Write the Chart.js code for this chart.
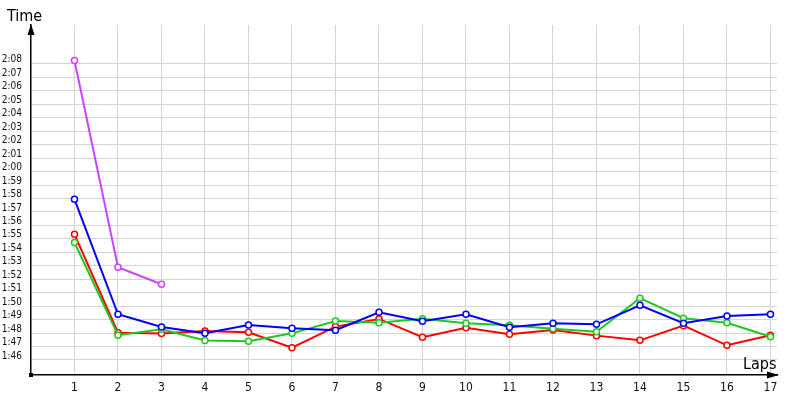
<!DOCTYPE html>
<html><head><meta charset="utf-8">
<script src="https://cdn.jsdelivr.net/npm/chart.js@4/dist/chart.umd.min.js"></script>
<style>html,body{margin:0;padding:0;background:#fff;overflow:hidden}canvas{display:block}</style>
</head><body><canvas id="c" width="800" height="400"></canvas>
<script>
const laps = [1,2,3,4,5,6,7,8,9,10,11,12,13,14,15,16,17];
const yTickLabels = ['1:46','1:47','1:48','1:49','1:50','1:51','1:52','1:53','1:54','1:55','1:56','1:57','1:58','1:59','2:00','2:01','2:02','2:03','2:04','2:05','2:06','2:07','2:08'];
// lap times in seconds
const purpleTimes = [128.25, 112.89, 111.63];
const blueTimes  = [117.94,109.40,108.45,107.98,108.60,108.36,108.21,109.55,108.88,109.40,108.43,108.73,108.65,110.07,108.73,109.27,109.40];
const redTimes   = [115.34,108.03,107.96,108.16,108.06,106.91,108.48,109.05,107.69,108.40,107.91,108.23,107.81,107.46,108.55,107.09,107.84];
const greenTimes = [114.73,107.84,108.28,107.45,107.39,107.98,108.90,108.77,109.07,108.73,108.58,108.33,108.10,110.59,109.10,108.77,107.73];

const toSec = s => { const p = s.split(':'); return (+p[0])*60 + (+p[1]); };
const fmt = v => Math.floor(v/60) + ':' + String(Math.round(v%60)).padStart(2,'0');
const pts = arr => arr.map((v,i) => ({x: laps[i], y: v}));

const FONT = "'DejaVu Sans Condensed', 'DejaVu Sans', sans-serif";

function ds(label, color, arr, order) {
  return {
    label, data: pts(arr), borderColor: color, backgroundColor: '#ffffff',
    borderWidth: 2, pointRadius: 3, pointBorderWidth: 1.5, pointBackgroundColor: '#ffffff',
    pointBorderColor: color, tension: 0, order
  };
}

const decor = {
  id: 'decor',
  afterDraw(chart) {
    const ctx = chart.ctx, a = chart.chartArea;
    ctx.save();
    ctx.fillStyle = '#000';
    // y arrow
    ctx.beginPath();
    ctx.moveTo(a.left, a.top - 1);
    ctx.lineTo(a.left - 3.5, a.top + 10);
    ctx.lineTo(a.left + 3.5, a.top + 10);
    ctx.closePath(); ctx.fill();
    // x arrow
    ctx.beginPath();
    ctx.moveTo(a.right + 2, a.bottom);
    ctx.lineTo(a.right - 10, a.bottom - 3.5);
    ctx.lineTo(a.right - 10, a.bottom + 3.5);
    ctx.closePath(); ctx.fill();
    // origin square
    ctx.fillRect(a.left - 2, a.bottom - 2, 4, 4);
    // titles
    ctx.font = '16px ' + FONT;
    ctx.textBaseline = 'alphabetic';
    ctx.textAlign = 'left';
    ctx.fillText('Time', 7, 21);
    ctx.fillText('Laps', 743, 369);
    ctx.restore();
  }
};

new Chart(document.getElementById('c'), {
  type: 'line',
  data: {
    datasets: [
      ds('Purple', '#cc44ff', purpleTimes, 0),
      ds('Blue', '#0000ff', blueTimes, 1),
      ds('Green', '#1ec81e', greenTimes, 2),
      ds('Red', '#ff0000', redTimes, 3)
    ]
  },
  options: {
    responsive: false, animation: false,
    layout: { padding: { left: 0, top: 25, right: 23, bottom: 0 } },
    plugins: { legend: { display: false }, tooltip: { enabled: false } },
    scales: {
      x: {
        type: 'linear', min: 0, max: 17.15,
        afterBuildTicks: s => { s.ticks = laps.map(v => ({value: v})); },
        afterFit: s => { s.height = 25; },
        grid: { color: '#d4d4d4', lineWidth: 1, drawTicks: false },
        border: { color: '#000', width: 1.5 },
        ticks: { color: '#111', font: { family: FONT, size: 12 }, padding: 6, maxRotation: 0, autoSkip: false }
      },
      y: {
        type: 'linear', min: 104.885, max: 130.89,
        afterBuildTicks: s => { s.ticks = yTickLabels.map(t => ({value: toSec(t)})); },
        afterFit: s => { s.width = 31; },
        grid: { color: '#d4d4d4', lineWidth: 1, drawTicks: false },
        border: { color: '#000', width: 1.5 },
        ticks: { color: '#111', font: { family: FONT, size: 10 }, padding: 9, labelOffset: -4, autoSkip: false,
                 callback: v => fmt(v) }
      }
    }
  },
  plugins: [decor]
});
</script>
</body></html>
